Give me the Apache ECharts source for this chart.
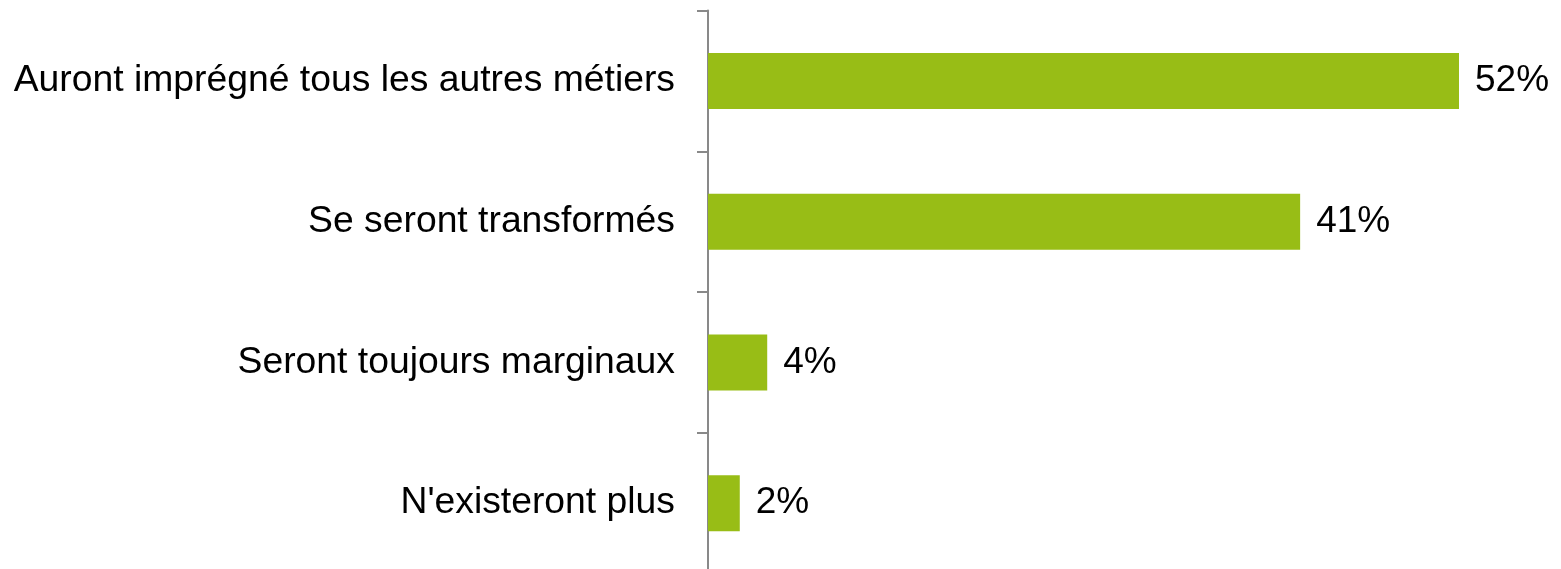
<!DOCTYPE html>
<html><head><meta charset="utf-8">
<script src="https://cdn.jsdelivr.net/npm/echarts@6/dist/echarts.min.js"></script>
<style>html,body{margin:0;padding:0;background:#fff;overflow:hidden}#c{width:1561px;height:574px}</style>
</head><body><div id="c"></div>
<script>
const categories = ["Auront imprégné tous les autres métiers", "Se seront transformés", "Seront toujours marginaux", "N'existeront plus"];
const values = [52, 41, 4.1, 2.2];

const chart = echarts.init(document.getElementById('c'), null, {renderer: 'canvas'});
chart.setOption({
  animation: false,
  grid: {left: 708, top: 10.5, right: 102, bottom: 0.5},
  xAxis: {type: 'value', min: 0, max: 52, show: false},
  yAxis: {
    type: 'category', inverse: true, data: categories,
    axisLine: {show: true, lineStyle: {color: '#898989', width: 2}},
    axisTick: {show: true, length: 11, lineStyle: {color: '#898989', width: 2}},
    axisLabel: {margin: 33, color: '#000', fontFamily: 'Liberation Sans, Arial, sans-serif', fontSize: 37.3}
  },
  series: [{
    type: 'bar', data: values, barWidth: 56,
    itemStyle: {color: '#98BD16'},
    label: {show: true, position: 'right', distance: 16, color: '#000',
      fontFamily: 'Liberation Sans, Arial, sans-serif', fontSize: 37,
      formatter: p => Math.round(p.value) + '%'}
  }]
});
</script></body></html>
